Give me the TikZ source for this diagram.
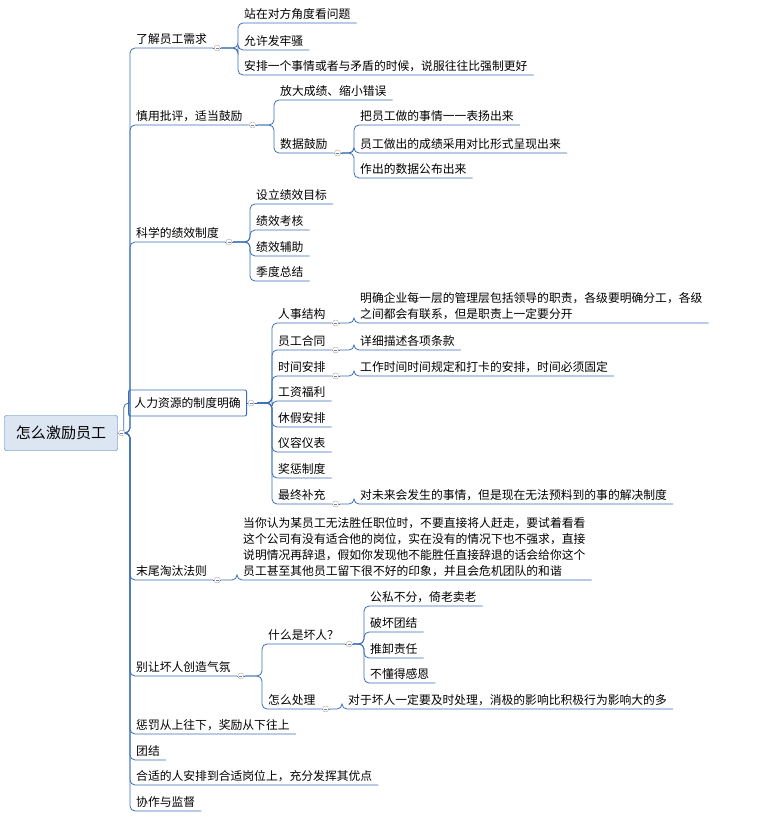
\documentclass[tikz,border=0pt]{standalone}
\usepackage{fontspec}
\setmainfont{Noto Sans CJK SC}
\usetikzlibrary{positioning, calc}
\definecolor{mapblue}{HTML}{3A6DB5}
\definecolor{rootfill}{HTML}{DCE6F2}
\tikzset{
  topic/.style={anchor=south west, inner xsep=6pt, inner ysep=3pt, align=left,
    font=\fontsize{11.8pt}{16pt}\selectfont},
  link/.style={mapblue, line width=0.8pt, rounded corners=5pt},
  fold/.style={draw=gray!70, fill=white, circle, inner sep=0pt, minimum size=6pt}
}
\begin{document}
\begin{tikzpicture}[x=1pt,y=-1pt]
\useasboundingbox (0,0) rectangle (759,826);
% centre
\node[draw=mapblue, fill=rootfill, rounded corners=2pt, minimum width=113pt, minimum height=35pt,
  font=\fontsize{15pt}{18pt}\selectfont] (root) at (61,433) {怎么激励员工};
% first level
\node[topic] (a1) at (130,48) {了解员工需求};
\node[topic] (a2) at (130,125) {慎用批评，适当鼓励};
\node[topic] (a3) at (130,242) {科学的绩效制度};
\node[draw=mapblue, line width=0.9pt, rounded corners=2pt, anchor=west, inner xsep=6pt,
  minimum height=26pt, font=\fontsize{11.8pt}{16pt}\selectfont] (a4) at (128,403) {人力资源的制度明确};
\node[topic] (a5) at (130,580) {末尾淘汰法则};
\node[topic] (a6) at (130,676) {别让坏人创造气氛};
\node[topic] (a7) at (130,734) {惩罚从上往下，奖励从下往上};
\node[topic] (a8) at (130,760) {团结};
\node[topic] (a9) at (130,785) {合适的人安排到合适岗位上，充分发挥其优点};
\node[topic] (a10) at (130,811) {协作与监督};
% 了解员工需求
\node[topic] (b1) at (238,23) {站在对方角度看问题};
\node[topic] (b2) at (238,50) {允许发牢骚};
\node[topic] (b3) at (238,75) {安排一个事情或者与矛盾的时候，说服往往比强制更好};
% 慎用批评
\node[topic] (c1) at (274,100) {放大成绩、缩小错误};
\node[topic] (c2) at (274,153) {数据鼓励};
\node[topic] (c21) at (354,125) {把员工做的事情一一表扬出来};
\node[topic] (c22) at (354,153) {员工做出的成绩采用对比形式呈现出来};
\node[topic] (c23) at (354,178) {作出的数据公布出来};
% 绩效
\node[topic] (d1) at (250,204) {设立绩效目标};
\node[topic] (d2) at (250,230) {绩效考核};
\node[topic] (d3) at (250,256) {绩效辅助};
\node[topic] (d4) at (250,281) {季度总结};
% 人力资源
\node[topic] (e1) at (272,323) {人事结构};
\node[topic] (e2) at (272,350) {员工合同};
\node[topic] (e3) at (272,376) {时间安排};
\node[topic] (e4) at (272,401) {工资福利};
\node[topic] (e5) at (272,427) {休假安排};
\node[topic] (e6) at (272,452) {仪容仪表};
\node[topic] (e7) at (272,478) {奖惩制度};
\node[topic] (e8) at (272,504) {最终补充};
\node[topic] (e11) at (354,323) {明确企业每一层的管理层包括领导的职责，各级要明确分工，各级\\之间都会有联系，但是职责上一定要分开};
\node[topic] (e21) at (354,350) {详细描述各项条款};
\node[topic] (e31) at (354,376) {工作时间时间规定和打卡的安排，时间必须固定};
\node[topic] (e81) at (354,504) {对未来会发生的事情，但是现在无法预料到的事的解决制度};
% 末尾淘汰
\node[topic] (f1) at (237,580) {当你认为某员工无法胜任职位时，不要直接将人赶走，要试着看看\\这个公司有没有适合他的岗位，实在没有的情况下也不强求，直接\\说明情况再辞退，假如你发现他不能胜任直接辞退的话会给你这个\\员工甚至其他员工留下很不好的印象，并且会危机团队的和谐};
% 坏人
\node[topic] (g1) at (262,644) {什么是坏人？};
\node[topic] (g2) at (262,709) {怎么处理};
\node[topic] (g11) at (364,606) {公私不分，倚老卖老};
\node[topic] (g12) at (364,632) {破坏团结};
\node[topic] (g13) at (364,658) {推卸责任};
\node[topic] (g14) at (364,683) {不懂得感恩};
\node[topic] (g21) at (342,709) {对于坏人一定要及时处理，消极的影响比积极行为影响大的多};
% outlets
\coordinate (root-o) at ($(root.east)+(6,0)$);
\coordinate (a4-o) at ($(a4.east)+(10,0)$);
\foreach \p in {a1,a2,a3,a5,a6,c2,e1,e2,e3,e8,g1,g2}
  \coordinate (\p-o) at ($(\p.south east)+(8,0)$);
% connectors
\draw[link] (root-o) |- (a4.west);
\foreach \p/\c in {root/a1,root/a2,root/a3,root/a5,root/a6,root/a7,root/a8,root/a9,root/a10,
    a1/b1,a1/b2,a1/b3,a2/c1,a2/c2,c2/c21,c2/c22,c2/c23,a3/d1,a3/d2,a3/d3,a3/d4,
    a4/e1,a4/e2,a4/e3,a4/e4,a4/e5,a4/e6,a4/e7,a4/e8,e1/e11,e2/e21,e3/e31,e8/e81,
    a5/f1,a6/g1,a6/g2,g1/g11,g1/g12,g1/g13,g1/g14,g2/g21}
  \draw[link] (\p-o) -| (\c.south west) -- (\c.south east);
% fold marks
\draw[mapblue, line width=0.8pt] (root.east) -- (root-o);
\draw[mapblue, line width=0.8pt] (a4.east) -- (a4-o);
\foreach \p in {a1,a2,a3,a5,a6,c2,e1,e2,e3,e8,g1,g2}
  \draw[mapblue, line width=0.8pt] (\p.south east) -- (\p-o);
\foreach \p/\q in {root/root.east,a4/a4.east,a1/a1.south east,a2/a2.south east,a3/a3.south east,
    a5/a5.south east,a6/a6.south east,c2/c2.south east,e1/e1.south east,e2/e2.south east,
    e3/e3.south east,e8/e8.south east,g1/g1.south east,g2/g2.south east}
  \node[fold] (\p-fold) at ($(\q)+(4,0)$) {\tikz\draw[gray, line width=0.5pt] (0,0) -- (3pt,0);};
\end{tikzpicture}
\end{document}
